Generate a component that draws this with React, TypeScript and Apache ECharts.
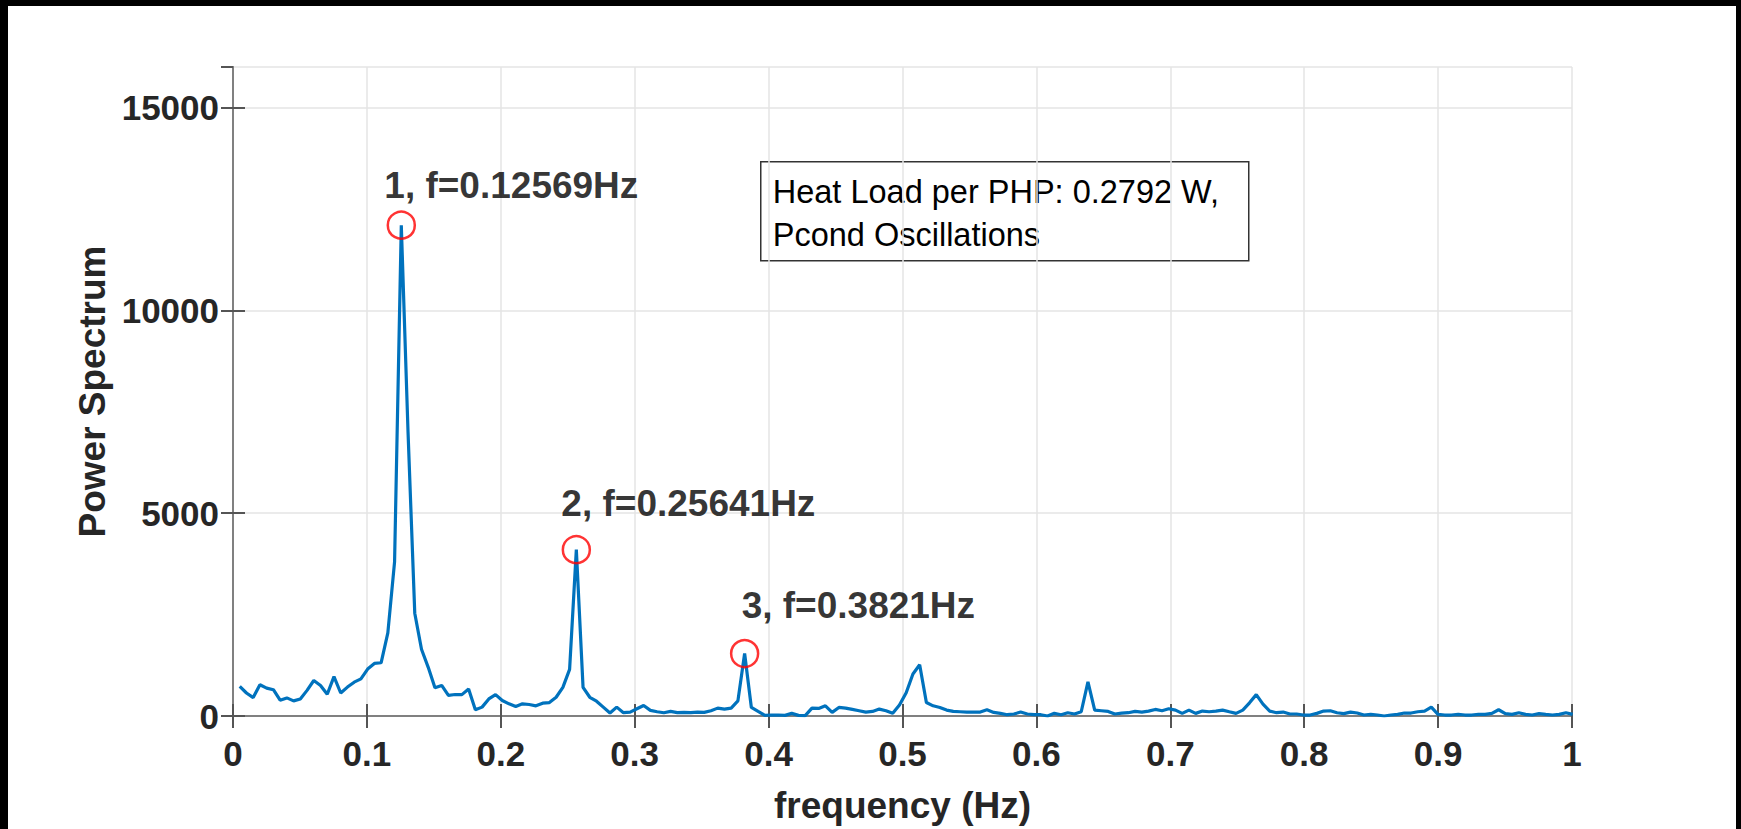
import React, { useEffect, useRef } from 'react';
import * as echarts from 'echarts';

// frequency bin spacing (Hz); bin k is at k * FREQ_STEP
const FREQ_STEP = 0.0050276;

// power spectrum values for bins 1..199
const POWER = [
  729, 567, 454, 770, 688, 648, 389, 446, 373, 421,
  632, 875, 753, 535, 972, 567, 713, 834, 915, 1158,
  1296, 1312, 2049, 3800, 12100, 7000, 2535, 1644, 1199, 697,
  753, 510, 530, 527, 664, 154, 219, 421, 527, 381,
  300, 235, 300, 284, 251, 316, 332, 462, 705, 1150,
  4100, 705, 462, 365, 219, 73, 219, 81, 97, 178,
  259, 138, 105, 81, 113, 85, 89, 81, 97, 89,
  130, 194, 170, 194, 373, 1540, 211, 113, 16, 24,
  24, 16, 65, 16, 8, 194, 186, 251, 89, 211,
  194, 162, 130, 97, 113, 170, 130, 65, 270, 575,
  1037, 1264, 332, 251, 211, 146, 113, 105, 97, 97,
  97, 154, 89, 65, 32, 49, 97, 49, 32, 32,
  0, 65, 32, 81, 49, 105, 842, 146, 130, 113,
  49, 70, 81, 113, 97, 121, 162, 130, 178, 146,
  65, 146, 65, 121, 105, 121, 146, 105, 65, 146,
  324, 527, 292, 121, 81, 97, 49, 49, 24, 24,
  65, 121, 130, 81, 60, 97, 73, 24, 40, 24,
  0, 24, 40, 73, 73, 105, 121, 219, 40, 24,
  24, 40, 24, 24, 40, 40, 65, 154, 57, 40,
  81, 40, 24, 57, 40, 24, 40, 81, 40,
];

const PEAK_BINS = [25, 51, 76];
const PEAK_LABELS = ['1, f=0.12569Hz', '2, f=0.25641Hz', '3, f=0.3821Hz'];
const BOX_LINES = ['Heat Load per PHP: 0.2792 W,', 'Pcond Oscillations'];

const X_NAME = 'frequency (Hz)';
const Y_NAME = 'Power Spectrum';

const FONT = '"Liberation Sans", Arial, Helvetica, sans-serif';

export default function App() {
  const ref = useRef<HTMLDivElement>(null);

  useEffect(() => {
    if (!ref.current) return;
    const chart = echarts.init(ref.current, undefined, { renderer: 'svg' });

    const lineData = POWER.map((p, i) => [(i + 1) * FREQ_STEP, p]);
    const labelOffsets = [[-17, -40], [-15, -46], [-3, -48]];
    const peakData = PEAK_BINS.map((b, i) => ({
      value: [b * FREQ_STEP, POWER[b - 1]],
      label: { offset: labelOffsets[i] },
    }));

    const axisLine = { show: true, lineStyle: { color: '#808080', width: 2 } };
    const axisTick = { show: true, inside: true, length: 12, lineStyle: { color: '#555', width: 2 } };
    const splitLine = { show: true, lineStyle: { color: '#e4e4e4', width: 1.5 } };
    const tickFont = { fontFamily: FONT, fontWeight: 'bold' as const, fontSize: 35, color: '#262626' };

    const xFmt = (v: number) => (v === 0 ? '0' : v === 1 ? '1' : (Math.round(v * 10) / 10).toString());
    const yFmt = (v: number) => String(Math.round(v));

    chart.setOption({
      animation: false,
      backgroundColor: '#ffffff',
      grid: { left: 225, top: 61, width: 1339, height: 659, containLabel: false },
      xAxis: [
        {
          type: 'value', min: 0, max: 1, interval: 0.1, position: 'bottom',
          axisLine, axisTick, splitLine,
          axisLabel: { ...tickFont, margin: 20, formatter: xFmt },
          name: X_NAME, nameLocation: 'middle', nameGap: 71,
          nameTextStyle: { fontFamily: FONT, fontWeight: 'bold', fontSize: 37, color: '#262626' },
        },
        {
          type: 'value', min: 0, max: 1, interval: 0.1, position: 'top',
          axisLine, axisTick, splitLine: { show: false }, axisLabel: { show: false },
        },
      ],
      yAxis: [
        {
          type: 'value', min: 0, max: 16000, interval: 5000, position: 'left',
          axisLine, axisTick, splitLine,
          axisLabel: { ...tickFont, margin: 14, showMaxLabel: false, formatter: yFmt },
          name: Y_NAME, nameLocation: 'middle', nameGap: 116, nameRotate: 90,
          nameTextStyle: { fontFamily: FONT, fontWeight: 'bold', fontSize: 37, color: '#262626' },
        },
        {
          type: 'value', min: 0, max: 16000, interval: 5000, position: 'right',
          axisLine, axisTick, splitLine: { show: false }, axisLabel: { show: false },
        },
      ],
      series: [
        {
          type: 'line', data: lineData, showSymbol: false, symbol: 'none',
          lineStyle: { color: '#0072BD', width: 3.2 }, z: 2,
        },
        {
          type: 'scatter', data: peakData, symbol: 'circle', symbolSize: 27,
          itemStyle: { color: 'rgba(0,0,0,0)', borderColor: '#ff0000', borderWidth: 2.5 },
          label: {
            show: true, position: 'inside', align: 'left', verticalAlign: 'middle',
            formatter: (p: any) => PEAK_LABELS[p.dataIndex],
            fontFamily: FONT, fontWeight: 'bold', fontSize: 37, color: '#000',
          },
          z: 3,
        },
      ],
      graphic: [
        {
          type: 'group', left: 752, top: 155, z: 10,
          children: [
            { type: 'rect', shape: { x: 0, y: 0, width: 488, height: 99 }, style: { fill: '#fff', stroke: '#333', lineWidth: 1.5 } },
            { type: 'text', x: 12, y: 30, style: { text: BOX_LINES[0], font: `32.5px ${FONT}`, fill: '#000', verticalAlign: 'middle' } },
            { type: 'text', x: 12, y: 73, style: { text: BOX_LINES[1], font: `32.5px ${FONT}`, fill: '#000', verticalAlign: 'middle' } },
          ],
        },
      ],
    });

    return () => chart.dispose();
  }, []);

  return (
    <div style={{ position: 'fixed', left: 0, top: 0, width: 1741, height: 829, background: '#000', overflow: 'hidden' }}>
      <div ref={ref} style={{ position: 'absolute', left: 8, top: 6, width: 1728, height: 823 }} />
    </div>
  );
}
